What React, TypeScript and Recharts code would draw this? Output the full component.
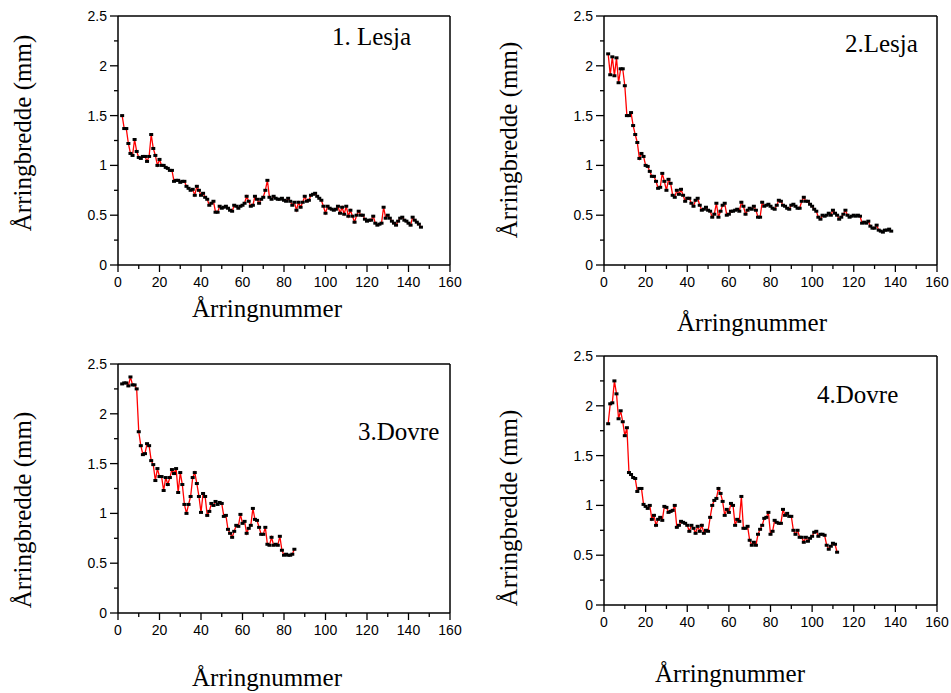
import { LineChart, Line, XAxis, YAxis, ReferenceLine } from "recharts";

// ring widths (mm), one value per ring, first ring given by *_START
const LESJA1_START = 2;
const lesja1 = [
  1.5, 1.37, 1.37, 1.22, 1.12, 1.1, 1.26, 1.14, 1.08, 1.07,
  1.09, 1.09, 1.04, 1.09, 1.31, 1.17, 1.1, 1.0, 1.06, 1.0,
  1.0, 0.98, 0.97, 0.95, 0.95, 0.84, 0.85, 0.85, 0.83, 0.84,
  0.84, 0.79, 0.77, 0.75, 0.76, 0.7, 0.79, 0.75, 0.7, 0.72,
  0.68, 0.66, 0.6, 0.62, 0.64, 0.53, 0.53, 0.59, 0.57, 0.58,
  0.59, 0.57, 0.55, 0.54, 0.6, 0.59, 0.57, 0.59, 0.6, 0.62,
  0.69, 0.64, 0.59, 0.6, 0.69, 0.66, 0.62, 0.66, 0.68, 0.75,
  0.85, 0.68, 0.66, 0.69, 0.67, 0.66,
  0.66, 0.67, 0.65, 0.64, 0.67, 0.64, 0.6, 0.63, 0.55, 0.63,
  0.58, 0.63, 0.69, 0.64, 0.65, 0.7, 0.71, 0.72, 0.69, 0.67,
  0.65, 0.59, 0.52, 0.59, 0.57, 0.56, 0.55, 0.56, 0.59, 0.52,
  0.58, 0.51, 0.59, 0.49, 0.55, 0.49, 0.43, 0.5, 0.54, 0.5,
  0.5, 0.46, 0.44, 0.45, 0.45, 0.49, 0.42, 0.4, 0.41, 0.42,
  0.58, 0.47, 0.5, 0.47, 0.44, 0.42, 0.4, 0.44, 0.47, 0.48,
  0.45, 0.44, 0.42, 0.4, 0.48, 0.45, 0.43, 0.41, 0.38,
];

const LESJA2_START = 2;
const lesja2 = [
  2.12, 1.91, 2.09, 1.9, 2.08, 1.83, 1.97, 1.97, 1.8, 1.5,
  1.5, 1.53, 1.4, 1.31, 1.23, 1.07, 1.12, 1.09, 1.0, 0.99,
  0.94, 0.89, 0.89, 0.84, 0.77, 0.78, 0.92, 0.84, 0.75, 0.86,
  0.82, 0.7, 0.68, 0.75, 0.71, 0.76, 0.7, 0.64, 0.67, 0.67,
  0.62, 0.59, 0.65, 0.67, 0.6, 0.55, 0.56, 0.58, 0.55, 0.54,
  0.48, 0.51, 0.62, 0.48, 0.54, 0.6, 0.62, 0.5, 0.51, 0.54,
  0.54, 0.55, 0.56, 0.54, 0.63, 0.59, 0.51, 0.55, 0.57, 0.56,
  0.59, 0.55, 0.48, 0.48,
  0.63, 0.59, 0.6, 0.61, 0.59, 0.57, 0.56, 0.6, 0.65, 0.64,
  0.6, 0.59, 0.57, 0.56, 0.6, 0.61, 0.59, 0.57, 0.57, 0.64,
  0.68, 0.64, 0.64, 0.61, 0.59, 0.56, 0.54, 0.48, 0.46, 0.5,
  0.49, 0.5, 0.52, 0.5, 0.55, 0.52, 0.5, 0.46, 0.48, 0.51,
  0.55, 0.5, 0.48, 0.49, 0.5, 0.49, 0.5, 0.49, 0.42, 0.43,
  0.42, 0.44, 0.39, 0.37, 0.37, 0.4, 0.35, 0.34, 0.33, 0.35,
  0.35, 0.36, 0.34,
];

const DOVRE3_START = 2;
const dovre3 = [
  2.3, 2.31, 2.31, 2.28, 2.37, 2.29, 2.29, 2.25, 1.82, 1.68,
  1.59, 1.6, 1.7, 1.68, 1.53, 1.49, 1.33, 1.45, 1.37, 1.37,
  1.23, 1.36, 1.29, 1.36, 1.44, 1.4, 1.45, 1.21, 1.41, 1.29,
  1.09, 1.0, 1.09, 1.17, 1.36, 1.41, 1.3, 1.17, 1.01, 1.2,
  1.17, 0.98, 1.02, 1.1, 1.08, 1.12, 1.09, 1.11, 1.1, 0.97,
  0.98, 0.84, 0.8, 0.76, 0.82, 0.88, 0.87, 0.99, 0.9, 0.92,
  0.8, 0.85, 0.88, 1.05, 0.94, 0.93, 0.86, 0.79, 0.79, 0.86,
  0.69, 0.68, 0.76, 0.68, 0.69, 0.68, 0.77, 0.63, 0.58, 0.59,
  0.58, 0.58, 0.59, 0.64,
];

const DOVRE4_START = 2;
const dovre4 = [
  1.82, 2.02, 2.03, 2.25, 2.12, 1.87, 1.95, 1.84, 1.7, 1.78,
  1.33, 1.31, 1.28, 1.27, 1.14, 1.17, 1.17, 1.01, 0.99, 0.97,
  1.0, 0.86, 0.9, 0.8, 0.86, 0.88, 0.85, 0.99, 0.98, 0.93,
  0.94, 0.95, 1.0, 0.78, 0.8, 0.84, 0.83, 0.82, 0.8, 0.74,
  0.8, 0.77, 0.72, 0.79, 0.74, 0.8, 0.72, 0.75, 0.74, 0.88,
  1.0, 1.05, 1.07, 1.17, 1.12, 1.04, 0.9, 0.96, 0.93, 1.02,
  1.0, 0.8, 0.86, 0.84, 1.09, 0.77, 0.77, 0.79, 0.65, 0.6,
  0.63, 0.6, 0.71, 0.76, 0.8, 0.87, 0.88, 0.93, 0.71, 0.74,
  0.85, 0.83, 0.82, 0.82, 0.96, 0.9, 0.92, 0.89, 0.89, 0.75,
  0.71, 0.75, 0.68, 0.68, 0.63, 0.68, 0.64, 0.67, 0.69, 0.73,
  0.74, 0.69, 0.71, 0.71, 0.7, 0.6, 0.56, 0.59, 0.62, 0.61,
  0.53,
];

const X_TICKS = [0, 10, 20, 30, 40, 50, 60, 70, 80, 90, 100, 110, 120, 130, 140, 150, 160];
const Y_TICKS = [0, 0.25, 0.5, 0.75, 1, 1.25, 1.5, 1.75, 2, 2.25, 2.5];

const X_TITLE = "Årringnummer";
const Y_TITLE = "Årringbredde (mm)";

const SANS = "'Liberation Sans', Arial, sans-serif";
const SERIF = "'Liberation Serif', 'Times New Roman', serif";

const Y_AXIS_W = 60;
const X_AXIS_H = 34;
const PAD_TOP = 10;
const PAD_RIGHT = 20;

const toRows = (start: number, widths: number[]) =>
  widths.map((w, i) => ({ ring: start + i, w }));

const renderXTick = (props: any) => {
  const { x, y, payload } = props;
  const major = payload.value % 20 === 0;
  return (
    <g key={`xt-${payload.value}`}>
      <line x1={x} x2={x} y1={y} y2={y + (major ? 7 : 4)} stroke="#000" strokeWidth={1.3} />
      {major && (
        <text x={x} y={y + 22} textAnchor="middle" fontSize={14} fontFamily={SANS} fill="#000">
          {payload.value}
        </text>
      )}
    </g>
  );
};

const renderYTick = (props: any) => {
  const { x, y, payload } = props;
  const major = Number.isInteger(payload.value * 2);
  return (
    <g key={`yt-${payload.value}`}>
      <line x1={x} x2={x - (major ? 8 : 4)} y1={y} y2={y} stroke="#000" strokeWidth={1.3} />
      {major && (
        <text x={x - 11} y={y} dy="0.35em" textAnchor="end" fontSize={14} fontFamily={SANS} fill="#000">
          {payload.value}
        </text>
      )}
    </g>
  );
};

const renderDot = (p: any) => (
  <rect key={`d-${p.index}`} x={p.cx - 2} y={p.cy - 1.5} width={4} height={3} fill="#000" />
);

type PanelProps = {
  left: number;
  top: number;
  width: number;
  height: number;
  data: { ring: number; w: number }[];
};

function Panel({ left, top, width, height, data }: PanelProps) {
  return (
    <div style={{ position: "absolute", left: left - Y_AXIS_W, top: top - PAD_TOP }}>
      <LineChart
        width={width + Y_AXIS_W + PAD_RIGHT}
        height={height + PAD_TOP + X_AXIS_H}
        data={data}
        margin={{ top: PAD_TOP, right: PAD_RIGHT, bottom: 0, left: 0 }}
      >
        <XAxis
          dataKey="ring"
          type="number"
          domain={[0, 160]}
          ticks={X_TICKS}
          interval={0}
          tickSize={0}
          tickMargin={0}
          tickLine={false}
          tick={renderXTick}
          axisLine={{ stroke: "#000", strokeWidth: 1.5 }}
          height={X_AXIS_H}
        />
        <YAxis
          type="number"
          domain={[0, 2.5]}
          ticks={Y_TICKS}
          interval={0}
          tickSize={0}
          tickMargin={0}
          tickLine={false}
          tick={renderYTick}
          axisLine={{ stroke: "#000", strokeWidth: 1.5 }}
          width={Y_AXIS_W}
        />
        <ReferenceLine y={2.5} stroke="#000" strokeWidth={1.5} />
        <ReferenceLine x={160} stroke="#000" strokeWidth={1.5} />
        <Line
          type="linear"
          dataKey="w"
          stroke="#ff0000"
          strokeWidth={1.3}
          dot={renderDot}
          activeDot={false}
          isAnimationActive={false}
        />
      </LineChart>
    </div>
  );
}

export default function App() {
  return (
    <div
      style={{
        position: "absolute",
        left: 0,
        top: 0,
        width: 951,
        height: 693,
        overflow: "hidden",
        background: "#fff",
      }}
    >
      <Panel left={118} top={16} width={332} height={249} data={toRows(LESJA1_START, lesja1)} />
      <Panel left={604} top={16} width={333} height={249} data={toRows(LESJA2_START, lesja2)} />
      <Panel left={118} top={364} width={332} height={249} data={toRows(DOVRE3_START, dovre3)} />
      <Panel left={604} top={356} width={333} height={249} data={toRows(DOVRE4_START, dovre4)} />

      <svg
        width={951}
        height={693}
        style={{ position: "absolute", left: 0, top: 0, pointerEvents: "none" }}
        fontFamily={SERIF}
        fill="#000"
      >
        <text x={332} y={45} fontSize={25}>1. Lesja</text>
        <text x={845} y={52} fontSize={25}>2.Lesja</text>
        <text x={358} y={440} fontSize={25}>3.Dovre</text>
        <text x={817} y={403} fontSize={25}>4.Dovre</text>

        <text x={267} y={317} fontSize={25} textAnchor="middle">{X_TITLE}</text>
        <text x={752} y={331} fontSize={25} textAnchor="middle">{X_TITLE}</text>
        <text x={267} y={686} fontSize={25} textAnchor="middle">{X_TITLE}</text>
        <text x={730} y={682} fontSize={25} textAnchor="middle">{X_TITLE}</text>

        <text x={31} y={133} fontSize={25} textAnchor="middle" transform="rotate(-90 31 133)">{Y_TITLE}</text>
        <text x={517} y={140} fontSize={25} textAnchor="middle" transform="rotate(-90 517 140)">{Y_TITLE}</text>
        <text x={31} y={510} fontSize={25} textAnchor="middle" transform="rotate(-90 31 510)">{Y_TITLE}</text>
        <text x={517} y={508} fontSize={25} textAnchor="middle" transform="rotate(-90 517 508)">{Y_TITLE}</text>
      </svg>
    </div>
  );
}
